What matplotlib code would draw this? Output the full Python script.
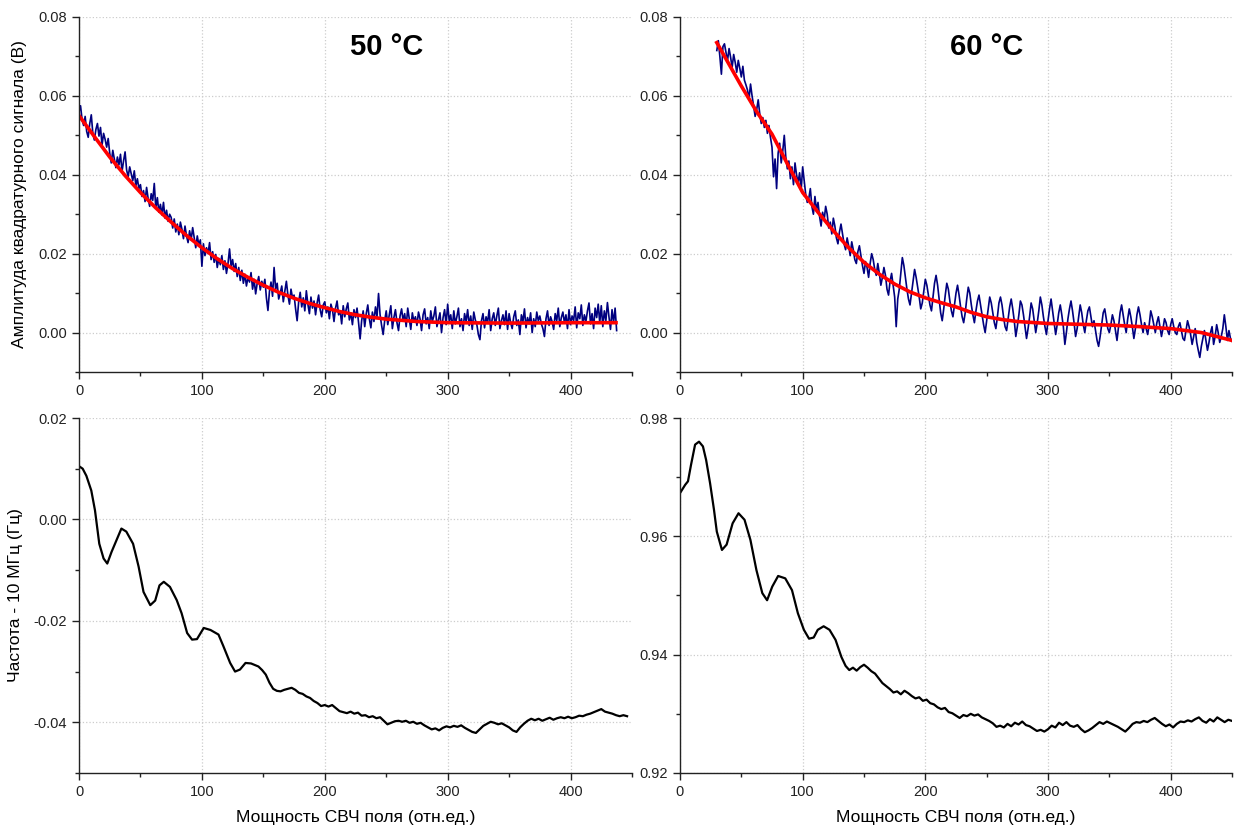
import numpy as np
import matplotlib
matplotlib.use("Agg")
import matplotlib.pyplot as plt
from matplotlib.ticker import MultipleLocator

plt.rcParams['font.family'] = ['Liberation Sans', 'DejaVu Sans']

# --- 50 °C, квадратурный сигнал, единицы 1e-4 В (шаг 1.25 по x, от 0) ---
sig50_x0, sig50_step = 0.0, 1.25
sig50_e4 = [
    560, 575, 540, 525, 548, 510, 495, 530, 552, 505, 488, 515, 530, 498, 520, 475, 505, 490, 470, 492,
    455, 430, 462, 440, 418, 445, 425, 452, 408, 435, 458, 412, 395, 420, 402, 385, 410, 372, 390, 365,
    375, 345, 360, 332, 368, 340, 320, 352, 335, 378, 315, 342, 305, 325, 298, 330, 290, 310, 282, 300,
    292, 265, 288, 255, 275, 248, 280, 262, 238, 270, 245, 228, 258, 235, 266, 240, 215, 245, 222, 235,
    168, 225, 195, 215, 200, 228, 185, 205, 178, 198, 165, 188, 172, 195, 160, 182, 150, 175, 212, 168,
    185, 155, 175, 142, 165, 132, 158, 125, 148, 118, 140, 128, 152, 110, 135, 98, 125, 142, 108, 130,
    115, 135, 88, 56, 105, 128, 92, 165, 110, 125, 85, 100, 118, 78, 105, 130, 95, 72, 110, 88,
    95, 60, 30, 78, 102, 65, 88, 55, 106, 72, 48, 90, 62, 80, 45, 75, 95, 58, 40, 70,
    78, 50, 65, 35, 72, 58, 28, 62, 80, 45, 55, 22, 68, 40, 60, 75, 32, 50, 20, 58,
    38, 62, 25, -16, 30, 55, 15, 48, 70, 35, 12, 52, 28, 65, 40, 99, 45, 18, -5, 30,
    55, 20, 45, 68, 10, 38, 58, 25, 5, 42, 60, 30, 48, 15, 62, 35, 8, 50, 28, 40,
    18, 52, 35, 5, 45, 60, 22, 38, 10, 55, 28, 42, 65, 15, 32, 50, 0, 38, 58, 20,
    72, 30, 45, 10, 55, 22, 40, 62, 15, 35, 5, 48, 28, 58, 18, 42, 8, 52, 32, 20,
    -5, -18, 30, 48, 12, 40, 25, 58, 5, 35, 50, 18, 42, 62, 10, 30, 45, 20, 55, 8,
    48, 25, 10, 40, 55, 18, 32, -5, 45, 28, 60, 12, 38, 22, 50, 0, 35, 15, 52, 30,
    42, 22, 10, -10, 35, 55, 18, 40, 28, 8, 48, 30, 62, 15, 38, 52, 25, 45, 10, 58,
    20, 42, 30, 65, 12, 50, 35, 70, 18, 45, 28, 55, 75, 22, 48, 10, 62, 38, 72, 25,
    68, 15, 55, 30, 76, 40, 8, 58, 25, 62, 5,
]
fit50_x = [0, 12.5, 25, 37.5, 50, 62.5, 75, 87.5, 100, 112.5, 125, 137.5, 150, 162.5,
           175, 187.5, 200, 212.5, 225, 237.5, 250, 262.5, 275, 300, 350, 400, 437]
fit50_y = [0.0550, 0.0497, 0.0445, 0.0398, 0.0355, 0.0316, 0.0280, 0.0246, 0.0215,
           0.0187, 0.0162, 0.0140, 0.0120, 0.0102, 0.0087, 0.0074, 0.0063, 0.0053,
           0.0045, 0.0039, 0.0034, 0.0031, 0.0028, 0.0025, 0.0024, 0.0025, 0.0025]

# --- 60 °C, квадратурный сигнал, единицы 1e-4 В (шаг 1.25 по x, от 30) ---
sig60_x0, sig60_step = 30.0, 1.25
sig60_e4 = [
    715, 740, 700, 655, 725, 732, 710, 690, 720, 698, 672, 705, 685, 660, 690, 670, 648, 675, 640, 628,
    615, 592, 630, 600, 575, 548, 565, 590, 555, 530, 545, 520, 538, 505, 525, 495, 470, 395, 440, 365,
    455, 480, 430, 460, 500, 445, 415, 435, 390, 420, 375, 430, 400, 380, 405, 360, 420, 385, 350, 330,
    340, 365, 320, 300, 345, 310, 330, 295, 270, 305, 285, 320, 300, 265, 280, 250, 290, 270, 240, 225,
    255, 275, 250, 225, 210, 240, 220, 195, 230, 210, 185, 175, 205, 220, 195, 170, 150, 180, 165, 140,
    175, 200, 185, 160, 145, 175, 150, 120, 140, 165, 145, 110, 95, 130, 150, 120, 90, 15, 85, 110,
    150, 190, 170, 140, 110, 85, 70, 100, 130, 160, 140, 115, 90, 60, 75, 105, 135, 120, 95, 70,
    55, 90, 125, 145, 120, 85, 50, 30, 60, 95, 125, 110, 80, 55, 40, 70, 100, 120, 95, 65,
    40, 25, 50, 85, 115, 100, 70, 45, 25, 55, 80, 95, 70, 45, 20, 0, 30, 60, 90, 75,
    50, 25, 10, 40, 75, 90, 70, 40, 15, 5, 35, 65, 85, 60, 30, -10, 15, 45, 80, 70,
    45, 15, -15, 10, 40, 75, 60, 30, 0, 25, 55, 90, 70, 40, 15, -5, 30, 60, 85, 55,
    25, -5, 20, 50, 70, 45, 15, -30, 0, 35, 60, 80, 55, 25, -10, 10, 40, 70, 50, 20,
    0, 30, 55, 65, 40, 15, 30, 5, -20, -35, -10, 20, 50, 60, 35, 10, 0, 20, 45, 30,
    5, -20, 15, 50, 70, 45, 20, 0, 35, 60, 40, 15, -15, 10, 45, 65, 45, 20, 0, 25,
    10, -5, 20, 55, 40, 20, 0, 25, 40, 15, -10, 10, 35, 25, 5, -5, 20, 35, 15, 0,
    -5, 15, 25, 5, -15, -20, 5, 30, 15, -5, -30, -10, 10, -25, -45, -63, -35, -15, 5, -20,
    -45, -25, 0, 15, -30, -10, 20, 0, -25, -10, 10, 45, 15, -20, 5, -15, -22,
]
fit60_x = [30, 40, 50, 62.5, 75, 87.5, 100, 112.5, 125, 137.5, 150, 162.5, 175, 187.5,
           200, 212.5, 225, 237.5, 250, 262.5, 275, 300, 325, 350, 375, 400, 425, 450]
fit60_y = [0.0735, 0.0680, 0.0625, 0.0560, 0.0503, 0.0428, 0.0355, 0.0305, 0.0258,
           0.0215, 0.0178, 0.0148, 0.0123, 0.0103, 0.0088, 0.0076, 0.0065, 0.0051,
           0.0040, 0.0033, 0.0028, 0.0023, 0.0021, 0.0019, 0.0015, 0.0010, 0.0000,
           -0.0020]

# --- 50 °C, частота: начало (точки) и хвост (шаг 3 от 140, единицы 1e-4) ---
f50_head_x = [0, 3, 6, 10, 13, 16.5, 20, 23, 26.5, 30.5, 34.5, 38.5, 44, 48.5, 52.5, 58,
              62, 65.5, 69, 74, 79.5, 83.5, 88, 92, 96, 101.5, 107, 113.5, 117.5, 123,
              127, 131, 135.5]
f50_head_y = [0.0105, 0.0100, 0.0086, 0.0057, 0.0018, -0.0048, -0.0077, -0.0087, -0.0064,
              -0.0041, -0.0018, -0.0024, -0.0048, -0.0093, -0.0143, -0.0169, -0.0160,
              -0.0130, -0.0123, -0.0133, -0.0159, -0.0185, -0.0224, -0.0237, -0.0236,
              -0.0214, -0.0218, -0.0227, -0.0250, -0.0283, -0.0300, -0.0296, -0.0283]
f50_tail_x0, f50_tail_step = 140, 3
f50_tail_e4 = [
    -284, -287, -290, -297, -306, -322, -334, -338, -339, -336, -334, -332, -336, -342, -344,
    -349, -352, -358, -362, -368, -366, -369, -366, -372, -378, -380, -382, -379, -383, -381,
    -387, -386, -390, -388, -392, -390, -397, -404, -401, -398, -397, -399, -397, -401, -399,
    -403, -401, -406, -410, -414, -412, -416, -411, -408, -410, -407, -409, -406, -411, -415,
    -419, -421, -414, -407, -403, -399, -401, -404, -402, -406, -410, -416, -419, -410, -403,
    -397, -393, -396, -393, -397, -394, -391, -395, -392, -390, -392, -389, -392, -390, -387,
    -388, -385, -383, -380, -377, -374, -379, -381, -383, -386, -388, -386, -388,
]

# --- 60 °C, частота: начало (точки) и хвост (шаг 3 от 135, единицы 1e-4) ---
f60_head_x = [0, 4.2, 6.5, 9, 12.3, 15.5, 18.7, 21.3, 24.5, 27.7, 30, 34.2, 38, 42.9,
              47.7, 52.6, 57.4, 62.3, 67.1, 71, 75.2, 80, 85.8, 91.3, 96.1, 101, 105.2,
              109, 112.3, 117.1, 121.9, 126.8, 131.6]
f60_head_y = [0.9673, 0.9687, 0.9693, 0.9721, 0.9755, 0.9760, 0.9752, 0.9729, 0.9690,
              0.9645, 0.9608, 0.9577, 0.9586, 0.9622, 0.9639, 0.9628, 0.9594, 0.9543,
              0.9504, 0.9492, 0.9515, 0.9533, 0.9529, 0.9509, 0.9470, 0.9442, 0.9427,
              0.9429, 0.9442, 0.9448, 0.9442, 0.9425, 0.9396]
f60_tail_x0, f60_tail_step = 135, 3
f60_tail_e4 = [
    9381, 9374, 9378, 9373, 9379, 9383, 9378, 9372, 9368, 9360, 9352, 9347, 9342, 9336, 9338,
    9333, 9339, 9335, 9330, 9326, 9328, 9322, 9324, 9318, 9316, 9311, 9308, 9310, 9303, 9301,
    9297, 9293, 9298, 9296, 9300, 9297, 9299, 9294, 9291, 9288, 9284, 9278, 9280, 9277, 9283,
    9279, 9285, 9282, 9287, 9281, 9279, 9275, 9271, 9273, 9270, 9274, 9280, 9277, 9285, 9281,
    9286, 9280, 9278, 9281, 9274, 9269, 9272, 9276, 9281, 9286, 9283, 9287, 9284, 9281, 9278,
    9274, 9270, 9276, 9283, 9286, 9285, 9288, 9286, 9290, 9293, 9288, 9283, 9279, 9282, 9277,
    9283, 9287, 9286, 9289, 9287, 9291, 9294, 9288, 9285, 9291, 9287, 9294, 9290, 9286, 9290,
    9288,
]

titles = ['50 °C', '60 °C']
xlabel = 'Мощность СВЧ поля (отн.ед.)'
ylabel_top = 'Амплитуда квадратурного сигнала (В)'
ylabel_bot = 'Частота - 10 МГц (Гц)'

SIG = '#00007f'
FIT = '#ff0000'

fig = plt.figure(figsize=(12.39, 8.31), dpi=100)
W, H = 1239, 831


def add_ax(x0, x1, ytop, ybot):
    return fig.add_axes([x0 / W, 1 - ybot / H, (x1 - x0) / W, (ybot - ytop) / H])


ax_tl = add_ax(79, 632, 17, 372)
ax_tr = add_ax(680, 1232, 17, 372)
ax_bl = add_ax(79, 632, 418, 773)
ax_br = add_ax(680, 1232, 418, 773)

for ax in (ax_tl, ax_tr, ax_bl, ax_br):
    ax.spines['top'].set_visible(False)
    ax.spines['right'].set_visible(False)
    for s in ('left', 'bottom'):
        ax.spines[s].set_linewidth(1.0)
        ax.spines[s].set_color('#222222')
    ax.set_xlim(0, 450)
    ax.xaxis.set_major_locator(MultipleLocator(100))
    ax.xaxis.set_minor_locator(MultipleLocator(50))
    ax.yaxis.set_major_locator(MultipleLocator(0.02))
    ax.yaxis.set_minor_locator(MultipleLocator(0.01))
    ax.yaxis.set_major_formatter(plt.FormatStrFormatter('%.2f'))
    ax.tick_params(which='major', direction='out', length=5, width=1, labelsize=10.5,
                   colors='#222222')
    ax.tick_params(which='minor', direction='out', length=3, width=1, colors='#222222')
    ax.grid(True, which='major', linestyle=':', color='#cccccc', linewidth=0.9)
    ax.set_axisbelow(True)

sig50_x = sig50_x0 + sig50_step * np.arange(len(sig50_e4))
sig60_x = sig60_x0 + sig60_step * np.arange(len(sig60_e4))

for ax, sx, sy, fx, fy, t in ((ax_tl, sig50_x, sig50_e4, fit50_x, fit50_y, titles[0]),
                              (ax_tr, sig60_x, sig60_e4, fit60_x, fit60_y, titles[1])):
    ax.plot(sx, np.array(sy) * 1e-4, color=SIG, linewidth=1.2)
    ax.plot(fx, fy, color=FIT, linewidth=2.6)
    ax.set_ylim(-0.01, 0.08)
    ax.text(250, 0.0725, t, ha='center', va='center', fontsize=21, fontweight='bold')

f50_x = np.concatenate([f50_head_x, f50_tail_x0 + f50_tail_step * np.arange(len(f50_tail_e4))])
f50_y = np.concatenate([f50_head_y, np.array(f50_tail_e4) * 1e-4])
f60_x = np.concatenate([f60_head_x, f60_tail_x0 + f60_tail_step * np.arange(len(f60_tail_e4))])
f60_y = np.concatenate([f60_head_y, np.array(f60_tail_e4) * 1e-4])

ax_bl.plot(f50_x, f50_y, color='black', linewidth=1.6)
ax_bl.set_ylim(-0.05, 0.02)

ax_br.plot(f60_x, f60_y, color='black', linewidth=1.6)
ax_br.set_ylim(0.92, 0.98)

ax_tl.set_ylabel(ylabel_top, fontsize=12.5, labelpad=8)
ax_bl.set_ylabel(ylabel_bot, fontsize=12.5, labelpad=8)
ax_bl.set_xlabel(xlabel, fontsize=12.5, labelpad=8)
ax_br.set_xlabel(xlabel, fontsize=12.5, labelpad=8)

fig.savefig('out.png', dpi=100)
